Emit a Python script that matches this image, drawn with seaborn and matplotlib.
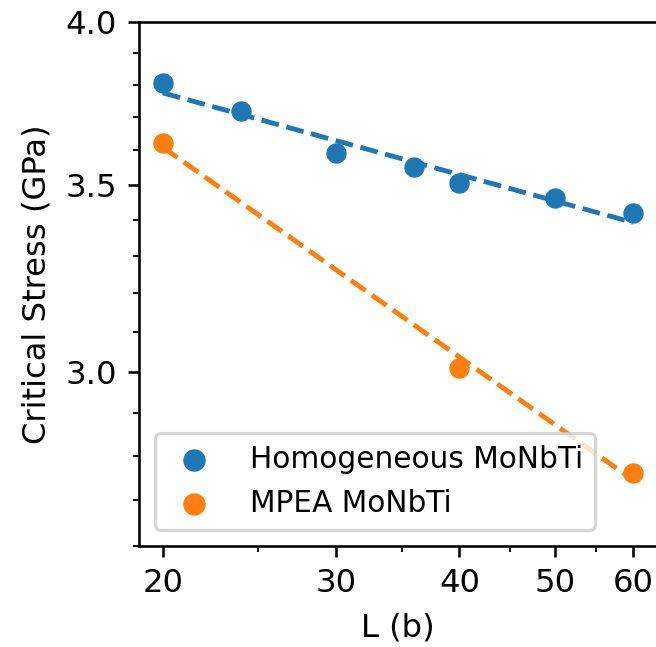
import numpy as np
import pandas as pd
import matplotlib
matplotlib.use("Agg")
import matplotlib.pyplot as plt
import seaborn as sns
from matplotlib.ticker import NullFormatter, FixedLocator

# Data
homo_L = [20, 24, 30, 36, 40, 50, 60]
homo_stress = [3.806, 3.718, 3.591, 3.550, 3.505, 3.462, 3.419]
mpea_L = [20, 40, 60]
mpea_stress = [3.621, 3.010, 2.760]
series_labels = ["Homogeneous MoNbTi", "MPEA MoNbTi"]
colors = ["#1f77b4", "#ff7f0e"]

x_major = [20, 30, 40, 50, 60]
x_minor = [25, 35, 45, 55]
y_major = [3.0, 3.5, 4.0]
y_minor = [2.6, 2.7, 2.8, 2.9, 3.1, 3.2, 3.3, 3.4, 3.6, 3.7, 3.8, 3.9]

plt.rcParams["font.family"] = ["DejaVu Sans"]

DPI = 232
W, H = 656, 647
fig = plt.figure(figsize=(W / DPI, H / DPI), dpi=DPI)
left, right, top, bottom = 139.3, 656.5, 22.3, 545.7
ax = fig.add_axes([left / W, 1 - bottom / H, (right - left) / W, (bottom - top) / H])

df = pd.concat([
    pd.DataFrame({"L": homo_L, "stress": homo_stress, "series": series_labels[0]}),
    pd.DataFrame({"L": mpea_L, "stress": mpea_stress, "series": series_labels[1]}),
])

for lab, col in zip(series_labels, colors):
    sub = df[df["series"] == lab]
    sns.scatterplot(data=sub, x="L", y="stress", color=col, s=40, linewidth=0,
                    label=lab, ax=ax, zorder=2)
    # power-law fit (linear in log-log)
    p = np.polyfit(np.log(sub["L"]), np.log(sub["stress"]), 1)
    xs = np.array([sub["L"].min(), sub["L"].max()])
    ax.plot(xs, np.exp(np.polyval(p, np.log(xs))), "--", color=col, lw=1.5, zorder=3)

ax.set_xscale("log")
ax.set_yscale("log")
ax.set_ylim(2.6, 4.0)

ax.xaxis.set_major_locator(FixedLocator(x_major))
ax.xaxis.set_minor_locator(FixedLocator(x_minor))
ax.set_xticklabels([str(v) for v in x_major])
ax.xaxis.set_minor_formatter(NullFormatter())
ax.yaxis.set_major_locator(FixedLocator(y_major))
ax.yaxis.set_minor_locator(FixedLocator(y_minor))
ax.set_yticklabels([f"{v:.1f}" for v in y_major])
ax.yaxis.set_minor_formatter(NullFormatter())

ax.tick_params(which="major", labelsize=10)

ax.set_xlabel("L (b)", fontsize=10)
ax.set_ylabel("Critical Stress (GPa)", fontsize=10)

ax.legend(loc="lower left", fontsize=9.2, borderaxespad=0.54, markerscale=1.1,
          handlelength=1.8, handletextpad=1.0)

fig.savefig("out.png", dpi=DPI)
